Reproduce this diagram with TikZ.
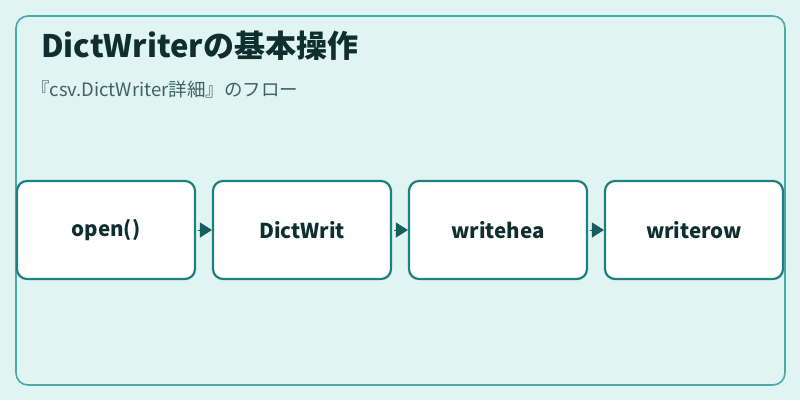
\documentclass[tikz,border=0pt]{standalone}
\usepackage{fontspec}
\usetikzlibrary{arrows.meta}
\setmainfont{Noto Sans CJK JP}
\definecolor{bgc}{HTML}{E0F4F2}
\definecolor{framec}{HTML}{4AAAAA}
\definecolor{boxc}{HTML}{1E8080}
\definecolor{arrc}{HTML}{165E5E}
\definecolor{titc}{HTML}{0F2E2E}
\definecolor{subc}{HTML}{3F6262}

\begin{document}
\begin{tikzpicture}[x=1pt,y=-1pt,
  stepbox/.style={draw=boxc, line width=2.2pt, fill=white, rounded corners=10pt,
    minimum width=178pt, minimum height=98pt, inner sep=0pt,
    font=\fontsize{20.5}{24}\selectfont\bfseries, text=titc},
  flow/.style={-{Triangle[length=12pt,width=15pt]}, arrc, line width=1pt, shorten <=2pt}]
 \useasboundingbox (0,0) rectangle (800,400);
 \fill[bgc] (0,0) rectangle (800,400);
 \draw[framec, line width=1.6pt, rounded corners=12pt] (16,16) rectangle (785,385);
 % titles
 \node[anchor=west, inner sep=0pt, text=titc, font=\fontsize{31}{36}\selectfont\bfseries] (title) at (41,46) {DictWriterの基本操作};
 \node[anchor=west, inner sep=0pt, text=subc, font=\fontsize{18.5}{22}\selectfont] (sub) at (31,89) {『csv.DictWriter詳細』のフロー};
 % steps
 \node[stepbox] (open) at (106,230) {open()};
 \node[stepbox] (dict) at (302,230) {DictWrit};
 \node[stepbox] (head) at (498,230) {writehea};
 \node[stepbox] (row) at (694,230) {writerow};
 \draw[flow] (open) -- (dict);
 \draw[flow] (dict) -- (head);
 \draw[flow] (head) -- (row);
\end{tikzpicture}
\end{document}
